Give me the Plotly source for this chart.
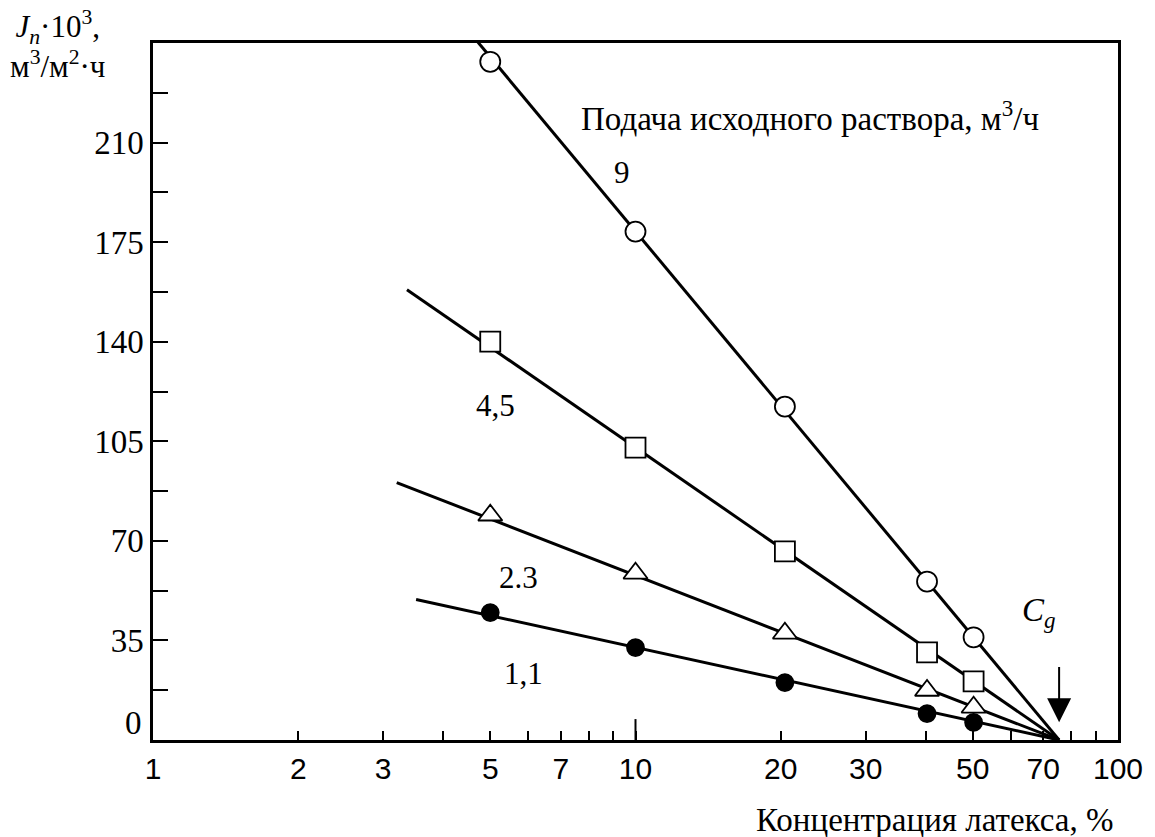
import math
import plotly.graph_objects as go

# ---- data ----
conc_points = [5, 10, 20.4, 40.2, 50.2]      # % latex, measured points
flux_9   = [238.4, 178.7, 117.2, 55.7, 36.1]
flux_45  = [140.0, 102.8, 66.3, 30.8, 20.6]
flux_23  = [79.0, 58.6, 37.5, 17.4, 11.5]
flux_11  = [44.8, 32.5, 20.2, 9.3, 6.2]

# fitted straight lines (start point, end at gel concentration Cg)
cg = 75.5
line_9_x  = [4.47, cg]; line_9_y  = [250.0, 0]
line_45_x = [3.36, cg]; line_45_y = [158.3, 0]
line_23_x = [3.20, cg]; line_23_y = [90.5, 0]
line_11_x = [3.51, cg]; line_11_y = [49.4, 0]

x_tickvals = [1, 2, 3, 4, 5, 6, 7, 8, 9, 10, 20, 30, 40, 50, 60, 70, 80, 90, 100]
x_ticktext = ["1", "2", "3", "", "5", "", "7", "", "", "10", "20", "30", "", "50", "", "70", "", "", "100"]
y_tickvals = [0, 17.5, 35, 52.5, 70, 87.5, 105, 122.5, 140, 157.5, 175, 192.5, 210, 227.5]
y_ticktext = ["", "", "35", "", "70", "", "105", "", "140", "", "175", "", "210", ""]

series_labels = ["9", "4,5", "2.3", "1,1"]
label_x = [9.38, 5.13, 5.71, 5.86]
label_y = [199.4, 117.6, 57.1, 23.4]

SERIF = "Liberation Serif"
SANS = "Liberation Sans"

fig = go.Figure()

for lx, ly in [(line_9_x, line_9_y), (line_45_x, line_45_y),
               (line_23_x, line_23_y), (line_11_x, line_11_y)]:
    fig.add_trace(go.Scatter(x=lx, y=ly, mode="lines",
                             line=dict(color="black", width=3),
                             showlegend=False, hoverinfo="skip"))

marker_specs = [
    (flux_9, "circle", "white", 20),
    (flux_45, "square", "white", 20),
    (flux_23, "triangle-up", "white", 21),
    (flux_11, "circle", "black", 17),
]
for ys, sym, fill, size in marker_specs:
    fig.add_trace(go.Scatter(x=conc_points, y=ys, mode="markers",
                             marker=dict(symbol=sym, size=size, color=fill,
                                         line=dict(color="black", width=1.8)),
                             showlegend=False))

annotations = []
for t, x, y in zip(series_labels, label_x, label_y):
    annotations.append(dict(x=math.log10(x), y=y, xref="x", yref="y", text=t, showarrow=False,
                            font=dict(family=SERIF, size=31, color="black")))

annotations += [
    dict(x=0.681, y=0.895, xref="paper", yref="paper", xanchor="center", yanchor="middle",
         text="Подача исходного раствора, м<sup>3</sup>/ч", showarrow=False,
         font=dict(family=SERIF, size=33, color="black")),
    dict(x=math.log10(68.7), y=44.8, xref="x", yref="y", text="<i>C<sub>g</sub></i>", showarrow=False,
         font=dict(family=SERIF, size=33, color="black")),
    dict(x=math.log10(cg), y=6.2, ax=math.log10(cg), ay=26.2, xref="x", yref="y",
         axref="x", ayref="y",
         text="", showarrow=True, arrowhead=2, arrowsize=2.4, arrowwidth=2,
         arrowcolor="black"),
    dict(x=0, y=0, xref="paper", yref="paper", xanchor="right", yanchor="middle",
         xshift=-9, yshift=17, text="0", showarrow=False,
         font=dict(family=SERIF, size=33, color="black")),
    dict(x=-0.099, y=1.0, xref="paper", yref="paper", xanchor="center", yanchor="top",
         yshift=40, text="<i>J<sub>п</sub></i>·10<sup>3</sup>,<br>м<sup>3</sup>/м<sup>2</sup>·ч",
         showarrow=False, align="center",
         font=dict(family=SERIF, size=31, color="black")),
    dict(x=0.81, y=0, xref="paper", yref="paper", xanchor="center", yanchor="middle",
         yshift=-80, text="Концентрация латекса, %", showarrow=False,
         font=dict(family=SERIF, size=33, color="black")),
]

fig.update_layout(
    width=1155, height=837,
    margin=dict(l=153, r=33, t=43, b=97),
    paper_bgcolor="white", plot_bgcolor="white",
    annotations=annotations,
    shapes=[dict(type="line", xref="x", yref="paper", x0=10, x1=10, y0=0, y1=0.03,
                 line=dict(color="black", width=2))],
    xaxis=dict(type="log", range=[0, 2.0], tickmode="array",
               tickvals=x_tickvals, ticktext=x_ticktext,
               ticks="inside", ticklen=9, tickwidth=2, tickcolor="black",
               showline=True, linecolor="black", linewidth=2.5, mirror=True,
               showgrid=False, zeroline=False,
               tickfont=dict(family=SANS, size=30, color="black")),
    yaxis=dict(range=[0, 245], tickmode="array",
               tickvals=y_tickvals, ticktext=y_ticktext,
               ticks="inside", ticklen=15, tickwidth=2, tickcolor="black",
               showline=True, linecolor="black", linewidth=2.5, mirror=True,
               showgrid=False, zeroline=False,
               tickfont=dict(family=SERIF, size=33, color="black")),
)

fig.write_html("out.html", config={"displayModeBar": False},
               post_script="document.body.style.margin='0';")
